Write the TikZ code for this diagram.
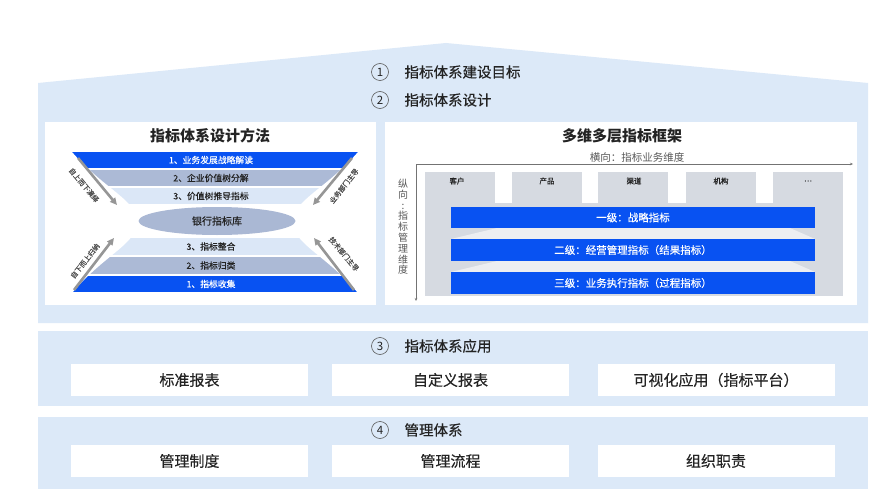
\documentclass[tikz,border=0pt]{standalone}
\usepackage{fontspec}
\setmainfont{Noto Sans CJK SC}
\usetikzlibrary{arrows.meta,shapes.geometric}
\definecolor{bgblue}{RGB}{220,233,248}
\definecolor{dblue}{RGB}{8,82,242}
\definecolor{gblue}{RGB}{172,186,214}
\definecolor{lblue}{RGB}{219,231,247}
\definecolor{ellc}{RGB}{170,184,212}
\definecolor{gcol}{RGB}{214,218,225}
\definecolor{txt}{RGB}{35,35,35}
\definecolor{arrg}{RGB}{150,150,150}
\begin{document}
\begin{tikzpicture}[x=1pt,y=-1pt,
  fs/.style={font=\fontsize{#1}{#1}\selectfont},
  fsb/.style={font=\fontsize{#1}{#1}\selectfont\addfontfeature{FakeBold=0.4}},
  numc/.style={circle,draw=black!65,line width=0.6pt,minimum size=17pt,inner sep=0pt,text=txt,fs=11.5},
  head/.style={anchor=west,text=txt,fsb=14.5},
  ptitle/.style={text=txt,font=\fontsize{15}{15}\selectfont\bfseries},
  band/.style={minimum width=286pt,inner sep=0pt},
  btext/.style={inner sep=0pt,fsb=8.8},
  garrow/.style={draw=arrg,line width=2.6pt,-{Triangle[length=7pt,width=6.5pt]}},
  alabel/.style={text=txt!80,fsb=7,inner sep=0pt},
  colbox/.style={fill=gcol,minimum width=70pt,minimum height=31pt,inner sep=0pt,anchor=north},
  collbl/.style={text=txt,fsb=7.5},
  barbox/.style={fill=dblue,text=white,minimum width=364pt,inner sep=0pt,fsb=10.5},
  axis/.style={draw=black!55,line width=0.5pt,-{Stealth[length=3pt,width=2.5pt]}},
  wbox/.style={fill=white,minimum width=237pt,minimum height=32pt,inner sep=0pt,text=txt,fsb=15}]
\useasboundingbox (0,0) rectangle (884,503);
\fill[white] (0,0) rectangle (884,503);
% background zones
\fill[bgblue] (38,83) -- (446,43) -- (868,83) -- (868,323) -- (38,323) -- cycle;
\fill[bgblue] (38,331) rectangle (868,406);
\fill[bgblue] (38,417) rectangle (868,489);
% headings 1 and 2
\node[numc] (n1) at (380,72) {1};
\node[head] (h1) at (401,72) {指标体系建设目标};
\node[numc] (n2) at (380,100) {2};
\node[head] (h2) at (401,100) {指标体系设计};
% ---------- left panel ----------
\fill[white] (45,122) rectangle (376,305);
\node[ptitle] (lt) at (210,136) {指标体系设计方法};
\node[band,fill=dblue,minimum height=16pt] (b1) at (215,160) {};
\node[band,fill=gblue,minimum height=16pt] (b2) at (215,178) {};
\node[band,fill=lblue,minimum height=16pt] (b3) at (215,196) {};
\node[band,fill=lblue,minimum height=17pt] (b4) at (215,246.5) {};
\node[band,fill=gblue,minimum height=17pt] (b5) at (215,265.5) {};
\node[band,fill=dblue,minimum height=16pt] (b6) at (215,284) {};
% white cut-outs
\fill[white] (60,148) -- (72,148) -- (72,152) .. controls (105,190) and (137,200) .. (137,222)
  .. controls (137,244) and (105,254) .. (72,293) -- (72,296) -- (60,296) -- cycle;
\fill[white] (370,148) -- (358,148) -- (358,152) .. controls (325,190) and (293,200) .. (293,222)
  .. controls (293,244) and (325,254) .. (358,293) -- (358,296) -- (370,296) -- cycle;
\node[btext,text=white] (bt1) at (211,160) {1、业务发展战略解读};
\node[btext,text=txt] (bt2) at (211,178) {2、企业价值树分解};
\node[btext,text=txt] (bt3) at (211,196) {3、价值树推导指标};
\node[btext,text=txt] (bt4) at (211,246.5) {3、指标整合};
\node[btext,text=txt] (bt5) at (211,265.5) {2、指标归类};
\node[btext,text=white] (bt6) at (211,284) {1、指标收集};
\node[ellipse,fill=ellc,minimum width=157pt,minimum height=28pt,inner sep=0pt,text=txt,fsb=10] (lib) at (217,221) {银行指标库};
% diagonal arrows
\coordinate (p1s) at (78,158);  \coordinate (p1e) at (117,205);
\coordinate (p2s) at (74,290);  \coordinate (p2e) at (114,238);
\coordinate (p3s) at (352,158); \coordinate (p3e) at (313,205);
\coordinate (p4s) at (354,290); \coordinate (p4e) at (314,238);
\draw[garrow] (p1s) -- (p1e);
\draw[garrow] (p2s) -- (p2e);
\draw[garrow] (p3s) -- (p3e);
\draw[garrow] (p4s) -- (p4e);
\node[alabel,rotate=-50] (al1) at (84,185) {自上而下演绎};
\node[alabel,rotate=52] (al2) at (85,261) {自下而上归纳};
\node[alabel,rotate=52] (al3) at (344,186) {业务部门主导};
\node[alabel,rotate=-50] (al4) at (344,254) {技术部门主导};
% ---------- right panel ----------
\fill[white] (385,122) rectangle (857,305);
\node[ptitle] (rt) at (622,136) {多维多层指标框架};
\node[text=black!65,fs=10.5] (hx) at (637,157) {横向：指标业务维度};
\coordinate (ax0) at (416,164);
\coordinate (axx) at (853,164);
\coordinate (axy) at (416,301);
\draw[axis] (ax0) -- (axx);
\draw[axis] (ax0) -- (axy);
\fill[gcol] (425,203) rectangle (843,296);
\node[colbox] (c1) at (460,172) {};
\node[colbox] (c2) at (547,172) {};
\node[colbox] (c3) at (633,172) {};
\node[colbox] (c4) at (721,172) {};
\node[colbox] (c5) at (808,172) {};
\node[collbl] (cl1) at (457,181) {客户};
\node[collbl] (cl2) at (547,181) {产品};
\node[collbl] (cl3) at (634,181) {渠道};
\node[collbl] (cl4) at (721,181) {机构};
\node[collbl] (cl5) at (808,181) {…};
% light gaps between bars
\fill[white!55!gcol] (497,228) -- (790,228) -- (815,239) -- (451,239) -- cycle;
\fill[white!55!gcol] (497,261) -- (790,261) -- (815,272) -- (451,272) -- cycle;
\node[barbox,minimum height=21pt] (l1) at (633,217.5) {一级：战略指标};
\node[barbox,minimum height=22pt] (l2) at (633,250) {二级：经营管理指标（结果指标）};
\node[barbox,minimum height=22pt] (l3) at (633,283) {三级：业务执行指标（过程指标）};
\node[align=center,text=black!65,font=\fontsize{10}{10.8}\selectfont,inner sep=0pt] (vy) at (403,227)
  {纵\\向\\:\\指\\标\\管\\理\\维\\度};
% ---------- section 3 ----------
\node[numc] (n3) at (380,346) {3};
\node[head] (h3) at (401,346) {指标体系应用};
\node[wbox] (a1) at (189.5,380) {标准报表};
\node[wbox] (a2) at (450.5,380) {自定义报表};
\node[wbox] (a3) at (716,380) {可视化应用（指标平台）};
% ---------- section 4 ----------
\node[numc] (n4) at (380,430) {4};
\node[head] (h4) at (401,430) {管理体系};
\node[wbox] (m1) at (189.5,461) {管理制度};
\node[wbox] (m2) at (450.5,461) {管理流程};
\node[wbox] (m3) at (716,461) {组织职责};
\end{tikzpicture}
\end{document}
